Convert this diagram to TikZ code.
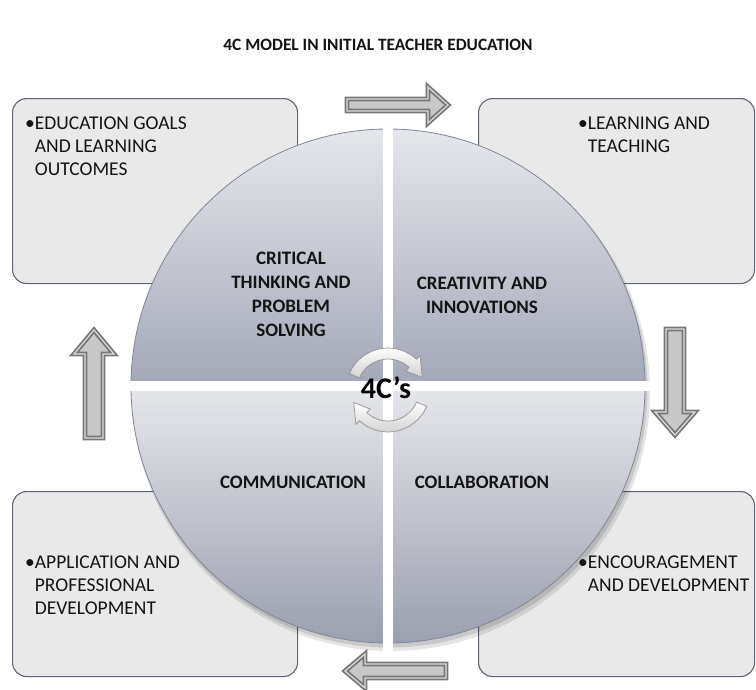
\documentclass[tikz,border=0pt]{standalone}
\usepackage{fontspec}
\setmainfont{Carlito}
\usetikzlibrary{calc}
\definecolor{boxfill}{HTML}{E9E9E9}
\definecolor{boxline}{HTML}{5E6575}
\definecolor{qtop}{HTML}{E6E7EB}
\definecolor{qmid}{HTML}{CDD0D8}
\definecolor{qbot}{HTML}{A3A7B7}
\definecolor{qline}{HTML}{7F8699}
\definecolor{arrowdark}{HTML}{777777}
\definecolor{arrowlight}{HTML}{DCDCDC}
\definecolor{arrowfill}{HTML}{C8C8C8}
\definecolor{inktext}{HTML}{141414}
\tikzset{
  infobox/.style={draw=boxline, fill=boxfill, line width=1.1pt, rounded corners=14pt, inner sep=0pt},
  boxtext/.style={align=left, inner sep=0pt, text=inktext, font=\fontsize{19.5}{23}\selectfont},
  qlabel/.style={align=center, inner sep=0pt, text=inktext, font=\bfseries\fontsize{19}{24}\selectfont},
  blockarrow/.style={draw=arrowdark, line width=1.8pt, double=arrowlight, double distance=1.2pt, fill=arrowfill, line join=miter},
  cyclearrow/.style={draw=black!42, line width=0.7pt, top color=white, bottom color=black!18},
  pics/barrow/.style n args={4}{code={
    \path[blockarrow] (0,-#2) -- (#1-#4,-#2) -- (#1-#4,-#3) -- (#1,0) -- (#1-#4,#3) -- (#1-#4,#2) -- (0,#2) -- cycle;
  }}
}
\begin{document}
\begin{tikzpicture}[x=1pt,y=-1pt]
\useasboundingbox (0,0) rectangle (756,689);
\fill[white] (0,0) rectangle (756,689);

% title
\node[font=\bfseries\fontsize{17.3}{20}\selectfont, text=inktext] (title) at (378,45) {4C MODEL IN INITIAL TEACHER EDUCATION};

% boxes
\node[infobox, anchor=north west, minimum width=285pt, minimum height=185pt] (tlbox) at (12,98) {};
\node[infobox, anchor=north west, minimum width=276pt, minimum height=185pt] (trbox) at (478,98) {};
\node[infobox, anchor=north west, minimum width=285pt, minimum height=185pt] (blbox) at (12,491) {};
\node[infobox, anchor=north west, minimum width=276pt, minimum height=185pt] (brbox) at (478,491) {};

% shadow of the circle
\fill[black, opacity=0.10] (391,392) circle (259);
\fill[black, opacity=0.12] (390,390) circle (257.5);

% quadrants
\begin{scope}
  \clip (388,386) circle (257);
  \shade[top color=qtop, middle color=qmid, bottom color=qbot] (120,129) rectangle (388,386);
  \shade[top color=qtop, middle color=qmid, bottom color=qbot] (388,129) rectangle (660,386);
  \shade[top color=qtop, middle color=qmid!80!qtop, bottom color=qbot!95!black] (120,386) rectangle (388,645);
  \shade[top color=qtop, middle color=qmid!80!qtop, bottom color=qbot!95!black] (388,386) rectangle (660,645);
\end{scope}
\draw[qline, line width=0.8pt] (388,386) circle (257);
% white gaps between quadrants
\begin{scope}
  \clip (388,386) circle (265);
  \fill[white] (383,110) rectangle (393,660);
  \fill[white] (110,381) rectangle (660,391);
\end{scope}

% quadrant labels
\node[qlabel] (critical) at (291,294) {CRITICAL\\THINKING AND\\PROBLEM\\SOLVING};
\node[qlabel] (creativity) at (482,295) {CREATIVITY AND\\INNOVATIONS};
\node[qlabel] (communication) at (293,482) {COMMUNICATION};
\node[qlabel] (collaboration) at (482,482) {COLLABORATION};

% centre cycle arrows
\coordinate (O) at (388,390);
\path[cyclearrow] ([shift={(O)}]203:42) arc (203:313:42) -- ([shift={(O)}]313:47) -- ([shift={(O)}]340:36.5) -- ([shift={(O)}]313:26) -- ([shift={(O)}]313:31) arc (313:203:31) -- cycle;
\path[cyclearrow] ([shift={(O)}]23:42) arc (23:133:42) -- ([shift={(O)}]133:47) -- ([shift={(O)}]160:36.5) -- ([shift={(O)}]133:26) -- ([shift={(O)}]133:31) arc (133:23:31) -- cycle;
\node[font=\bfseries\fontsize{30}{30}\selectfont, text=black, inner sep=0pt] (core) at (386,388) {4C’s};

% block arrows
\pic at (347,105) {barrow={101}{6}{18}{20}};
\pic[rotate=-90] at (675,329) {barrow={106}{9}{20}{23}};
\pic[rotate=90] at (94,438) {barrow={108}{9}{20}{24}};
\pic[rotate=180] at (446,671) {barrow={101}{7}{17}{20}};

% box texts
\node[boxtext, anchor=north west] (tltext) at (25,117) {•EDUCATION GOALS\\\phantom{•}AND LEARNING\\\phantom{•}OUTCOMES};
\node[boxtext, anchor=north west] (trtext) at (578,117) {•LEARNING AND\\\phantom{•}TEACHING};
\node[boxtext, anchor=north west] (bltext) at (25,556) {•APPLICATION AND\\\phantom{•}PROFESSIONAL\\\phantom{•}DEVELOPMENT};
\node[boxtext, anchor=north west] (brtext) at (578,556) {•ENCOURAGEMENT\\\phantom{•}AND DEVELOPMENT};
\end{tikzpicture}
\end{document}
